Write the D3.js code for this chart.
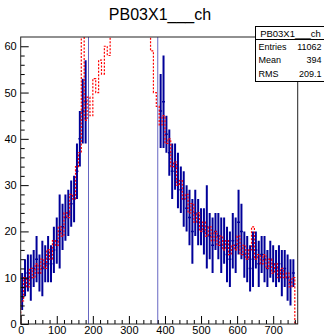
<!DOCTYPE html>
<html>
<head>
<meta charset="utf-8">
<script src="https://cdn.jsdelivr.net/npm/d3@7"></script>
<style>
  html, body { margin: 0; padding: 0; background: #fff; }
  svg { display: block; font-family: "Liberation Sans", Arial, Helvetica, sans-serif; }
</style>
</head>
<body>
<div id="chart"></div>
<script>
// histogram PB03X1___ch, 96 bins of 8 channels (0..768)
const title = 'PB03X1___ch';
const channelRange = [0, 768];

const blueVal = [
  7, 10, 11, 10, 12, 14, 11, 12, 13, 14, 13, 16, 18, 20, 21, 23, 24, 26, 27, 33, 40, 46, 48, 70,
  82, 86, 91, 95, 98, 104, 107, 111, 115, 118, 121, 124, 123, 120, 118, 113, 110, 106, 101, 97, 93, 88, 84, 70,
  46, 48, 41, 37, 33, 34, 31, 29, 27, 25, 23, 20, 24, 22, 21, 20, 21, 19, 17, 20, 19, 17, 18, 15,
  14, 18, 17, 22, 20, 15, 14, 12, 14, 16, 13, 15, 14, 12, 14, 13, 12, 13, 11, 12, 10, 9, 11, 0
];
const blueErr = [
  4, 4, 4, 5, 4, 5, 4, 6, 4, 5, 4, 5, 5, 8, 5, 5, 5, 5, 5, 6, 6, 7, 9, 70,
  9, 9, 10, 10, 10, 10, 10, 11, 11, 11, 11, 11, 11, 11, 11, 11, 11, 10, 10, 10, 10, 9, 9, 70,
  8, 10, 4, 5, 6, 5, 6, 5, 6, 5, 6, 7, 5, 5, 4, 5, 9, 5, 6, 4, 5, 6, 5, 6,
  6, 6, 6, 7, 6, 5, 5, 5, 6, 4, 5, 4, 5, 4, 4, 4, 4, 4, 5, 4, 5, 5, 3, 0
];
const redVal = [
  5, 10, 8, 12, 10, 13, 11, 14, 12, 16, 14, 18, 17, 21, 19, 24, 23, 28, 27, 34, 37, 70, 44, 49,
  45, 53, 50, 57, 54, 60, 58, 68, 74, 80, 86, 92, 97, 100, 98, 94, 88, 82, 76, 70, 66, 59, 50, 47,
  43, 45, 39, 40, 34, 35, 30, 31, 27, 28, 24, 26, 22, 24, 20, 22, 19, 21, 18, 20, 17, 19, 16, 18,
  15, 17, 16, 19, 15, 17, 14, 16, 21, 14, 15, 13, 15, 12, 14, 11, 13, 10, 12, 10, 11, 8, 10, 0
];

const xMajor = [0, 100, 200, 300, 400, 500, 600, 700];
const yMajor = [0, 10, 20, 30, 40, 50, 60];
const statsRows = [
  { label: 'Entries', value: '11062' },
  { label: 'Mean', value: '394' },
  { label: 'RMS', value: '209.1' }
];

const W = 324, H = 336;
const margin = { top: 37, right: 26.3, bottom: 12, left: 20.7 };
const width = W - margin.left - margin.right;
const height = H - margin.top - margin.bottom;

const svg = d3.select('#chart').append('svg').attr('width', W).attr('height', H);

const g = svg.append('g').attr('transform', `translate(${margin.left},${margin.top})`);

const x = d3.scaleLinear().domain(channelRange).range([0, width]);
const y = d3.scaleLinear().domain([0, 62]).range([height, 0]);

const nb = blueVal.length;
const bw = (channelRange[1] - channelRange[0]) / nb;
const bins = blueVal.map((v, i) => ({
  lo: channelRange[0] + i * bw,
  hi: channelRange[0] + (i + 1) * bw,
  v: v,
  e: blueErr[i],
  r: redVal[i]
}));

svg.append('defs').append('clipPath').attr('id', 'plotclip')
  .append('rect').attr('x', 0).attr('y', 0).attr('width', width).attr('height', height);

const plot = g.append('g').attr('clip-path', 'url(#plotclip)');

// blue: error bars + bin line
const blue = plot.selectAll('.bin').data(bins.filter(d => d.v > 0)).enter().append('g').attr('class', 'bin');
blue.append('line')
  .attr('x1', d => x((d.lo + d.hi) / 2)).attr('x2', d => x((d.lo + d.hi) / 2))
  .attr('y1', d => y(Math.max(0, d.v - d.e))).attr('y2', d => y(d.v + d.e))
  .attr('stroke', '#000099').attr('stroke-width', d => d.e > 30 ? 1 : 2)
  .attr('stroke-opacity', d => d.e > 30 ? 0.6 : 1);
blue.append('line')
  .attr('x1', d => x(d.lo)).attr('x2', d => x(d.hi))
  .attr('y1', d => y(d.v)).attr('y2', d => y(d.v))
  .attr('stroke', '#000099').attr('stroke-width', 1.5);

// red dashed step histogram
let path = `M${x(channelRange[0])},${y(0)}`;
bins.forEach(d => { path += `L${x(d.lo)},${y(d.r)}L${x(d.hi)},${y(d.r)}`; });
path += `L${x(channelRange[1])},${y(0)}`;
plot.append('path').attr('d', path).attr('fill', 'none')
  .attr('stroke', '#ff0000').attr('stroke-width', 1.2).attr('stroke-dasharray', '2,1.5');

// axes
const xMinor = d3.range(0, channelRange[1], 20).filter(v => v % 100 !== 0);
const yMinor = d3.range(0, 62, 2).filter(v => v % 10 !== 0);

g.append('g').attr('transform', `translate(0,${height})`)
  .call(d3.axisBottom(x).tickValues(xMinor).tickSize(-4).tickFormat(''));
g.append('g').attr('class', 'x axis').attr('transform', `translate(0,${height})`)
  .call(d3.axisBottom(x).tickValues(xMajor).tickSize(-8).tickPadding(2).tickFormat(d3.format('d')));
g.append('g').call(d3.axisLeft(y).tickValues(yMinor).tickSize(-4).tickFormat(''));
g.append('g').attr('class', 'y axis')
  .call(d3.axisLeft(y).tickValues(yMajor).tickSize(-8).tickPadding(4).tickFormat(d3.format('d')));

g.selectAll('.domain').remove();
g.selectAll('.tick line').attr('stroke', '#000');
g.selectAll('.tick text').attr('font-size', 11).attr('fill', '#000').attr('font-family', null);

g.append('rect').attr('x', 0).attr('y', 0).attr('width', width).attr('height', height)
  .attr('fill', 'none').attr('stroke', '#222').attr('stroke-width', 1);

// title
svg.append('text').attr('x', 160).attr('y', 20).attr('text-anchor', 'middle')
  .attr('font-size', 16).text(title);

// stats box
const sb = svg.append('g').attr('transform', 'translate(255.5,26.5)');
sb.append('rect').attr('width', 80).attr('height', 55).attr('fill', '#fff').attr('stroke', '#000');
sb.append('line').attr('x1', 0).attr('x2', 80).attr('y1', 13).attr('y2', 13).attr('stroke', '#000');
sb.append('text').attr('x', 35).attr('y', 10).attr('text-anchor', 'middle').attr('font-size', 9.5).text(title);
const rows = sb.selectAll('.row').data(statsRows).enter().append('g').attr('class', 'row')
  .attr('transform', (d, i) => `translate(0,${23 + i * 13.5})`);
rows.append('text').attr('x', 3).attr('font-size', 9).text(d => d.label);
rows.append('text').attr('x', 66).attr('text-anchor', 'end').attr('font-size', 9).text(d => d.value);
</script>
</body>
</html>
